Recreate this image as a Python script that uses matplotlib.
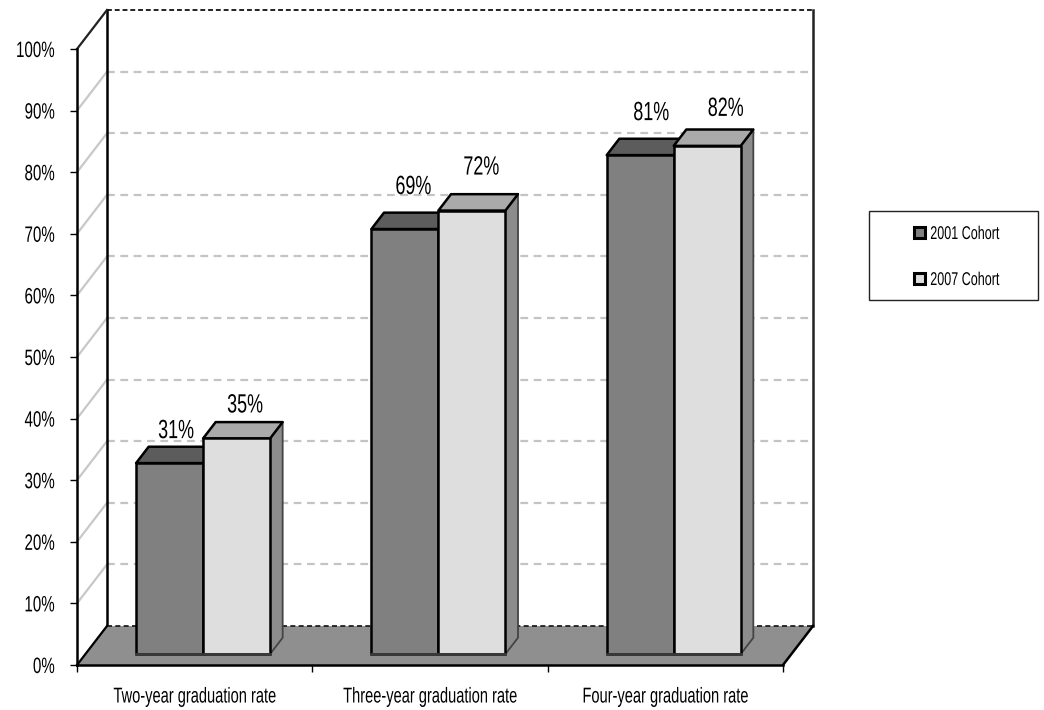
import matplotlib
matplotlib.use("Agg")
import matplotlib.pyplot as plt
from matplotlib.backends.backend_agg import RendererAgg
from matplotlib.patches import Patch, Rectangle
from matplotlib.textpath import TextPath
from matplotlib.transforms import Affine2D

plt.rcParams['font.family'] = ['Liberation Sans', 'DejaVu Sans']

categories = ['Two-year graduation rate', 'Three-year graduation rate', 'Four-year graduation rate']
cohort_2001 = [31, 69, 81]
cohort_2007 = [35, 72, 82.5]
series_names = ['2001 Cohort', '2007 Cohort']
y_ticks = [0, 10, 20, 30, 40, 50, 60, 70, 80, 90, 100]

# no condensed font is installed, so squeeze the text horizontally when it is drawn
SQUEEZE = 0.68
agg_metrics = RendererAgg.get_text_width_height_descent


def narrow_metrics(self, s, prop, ismath):
    w, h, d = agg_metrics(self, s, prop, ismath)
    return w * SQUEEZE, h, d


def narrow_draw_text(self, gc, x, y, s, prop, angle, ismath=False, mtext=None):
    scale = self.dpi / 72
    path = TextPath((0, 0), s, prop=prop)
    tr = Affine2D().scale(SQUEEZE * scale, scale).rotate_deg(angle).translate(x, self.height - y)
    gc.set_linewidth(0)
    self.draw_path(gc, path, tr, rgbFace=gc.get_rgb())


RendererAgg.get_text_width_height_descent = narrow_metrics
RendererAgg.draw_text = narrow_draw_text

W, H = 1044, 710
fig = plt.figure(figsize=(W / 100, H / 100), dpi=100)
ax = fig.add_axes([77 / W, 1 - 665 / H, (783 - 77) / W, (665 - 49) / H])
ax.set_xlim(0, 3)
ax.set_ylim(0, 100)
ax.patch.set_visible(False)

# depth of the fake 3d box, in data units (30 px across, 39 px up)
DX = 30 / (706 / 3)
DY = 39 / 6.16


def proj(x, y, d):
    return x + d * DX, y + d * DY


def face(points, color, z, edge='black', lw=1.8):
    xs = [p[0] for p in points]
    ys = [p[1] for p in points]
    ax.fill(xs, ys, facecolor=color, edgecolor=edge, linewidth=lw, zorder=z,
            clip_on=False, joinstyle='round')


def line(p, q, color, lw, z, ls='-'):
    ax.plot([p[0], q[0]], [p[1], q[1]], color=color, linewidth=lw, linestyle=ls,
            zorder=z, clip_on=False)


def draw_bar(x0, width, top, front, side, cap, z):
    d0 = 0.28
    d1 = d0 + 0.42
    a = proj(x0, 0, d0)
    b = proj(x0 + width, 0, d0)
    c = proj(x0 + width, top, d0)
    e = proj(x0, top, d0)
    face([b, c, proj(x0 + width, top, d1), proj(x0 + width, 0, d1)], side, z, edge='#444444', lw=1.3)
    face([e, c, proj(x0 + width, top, d1), proj(x0, top, d1)], cap, z)
    face([a, b, c, e], front, z + 0.1)
    line(a, b, '#3a3a3a', 2.0, z + 0.2)


# floor
face([proj(0, 0, 0), proj(3, 0, 0), proj(3, 0, 1), proj(0, 0, 1)], '#8f8f8f', 1, edge='none', lw=0)
line(proj(0, 0, 1), proj(3, 0, 1), '#111111', 1.2, 1.5, ls=(0, (3, 2)))
line(proj(3, 0, 0), proj(3, 0, 1), 'black', 1.8, 1.5)

# walls and grid
for t in y_ticks[1:-1]:
    line(proj(0, t, 0), proj(0, t, 1), '#c8c8c8', 1.6, 0.5)
    line(proj(0, t, 1), proj(3, t, 1), '#c4c4c4', 1.6, 0.5, ls=(0, (3.5, 2.5)))
line(proj(0, 100, 1), proj(3, 100, 1), '#222222', 1.4, 0.6, ls=(0, (2.5, 1.5)))
line(proj(0, 0, 1), proj(0, 100, 1), 'black', 1.8, 0.6)
line(proj(3, 0, 1), proj(3, 100, 1), '#222222', 1.8, 0.6)
line(proj(0, 0, 0), proj(0, 0, 1), 'black', 1.6, 1.5)
line(proj(0, 100, 0), proj(0, 100, 1), '#222222', 1.6, 0.6)

bar_w = 67 / (706 / 3)
label_nudge = [(6.5, 32), (8.5, 33), (8.5, 42), (9.5, 43), (11, 42), (18.5, 37)]
for i in range(len(categories)):
    left = i + 0.5 - bar_w
    draw_bar(left, bar_w, cohort_2001[i], '#808080', '#8c8c8c', '#5c5c5c', 2 + i)
    draw_bar(left + bar_w, bar_w, cohort_2007[i], '#dedede', '#8c8c8c', '#aaaaaa', 2.5 + i)
    base = proj(left + bar_w / 2, 0, 0.28)[0]
    for j, vals in enumerate([cohort_2001, cohort_2007]):
        nx, ny = label_nudge[i * 2 + j]
        ax.annotate('%d%%' % int(vals[i]),
                    xy=(base + j * bar_w, vals[i] + 0.28 * DY),
                    xytext=(nx * 0.72, ny * 0.72), textcoords='offset points',
                    ha='center', va='center', fontsize=19, zorder=10, annotation_clip=False)

for s in ['top', 'right']:
    ax.spines[s].set_visible(False)
ax.spines['left'].set_linewidth(1.8)
ax.spines['bottom'].set_linewidth(1.8)
ax.spines['left'].set_zorder(9)
ax.spines['bottom'].set_zorder(9)

ax.set_yticks(y_ticks)
ax.set_yticklabels(['%d%%' % t for t in y_ticks], fontsize=16)
ax.set_xticks([0, 1, 2, 3])
ax.set_xticklabels([])
ax.set_xticks([0.5, 1.5, 2.5], minor=True)
ax.set_xticklabels(categories, minor=True, fontsize=15.5)
ax.tick_params(axis='x', which='minor', length=0, pad=15.5)
ax.tick_params(axis='x', which='major', length=5, width=1)
ax.tick_params(axis='y', length=5, width=1, pad=11)

# legend box
fig.add_artist(Rectangle((869 / W, 1 - 299.5 / H), (1038 - 869) / W, (299.5 - 211) / H,
                         transform=fig.transFigure, facecolor='white', edgecolor='#222222', linewidth=1))
handles = [Patch(facecolor='#808080', edgecolor='black', linewidth=2.2, label=series_names[0]),
           Patch(facecolor='#dedede', edgecolor='black', linewidth=2.2, label=series_names[1])]
fig.legend(handles=handles, loc='center', bbox_to_anchor=(956.5 / W, 1 - 257.5 / H), frameon=False,
           fontsize=13.3, handlelength=0.62, handleheight=0.62, handletextpad=0.28, labelspacing=1.57)

fig.savefig('out.png', dpi=100)
